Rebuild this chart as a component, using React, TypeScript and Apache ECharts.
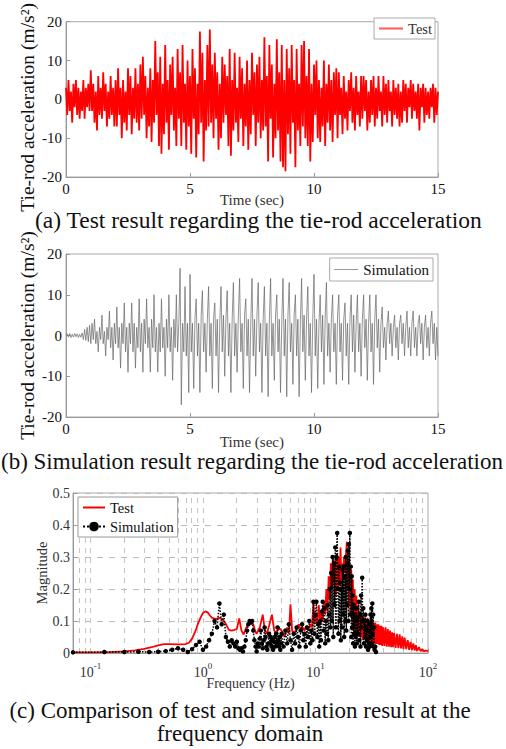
import React, { useEffect, useRef } from 'react';
import * as echarts from 'echarts';

// ---------- DATA ----------
const TIME_STEP = 0.05; // s, sampling step of the time histories (0..15 s)

// (a) measured tie-rod acceleration (m/s^2), one row per second
const testAccel = [
  3,-4,5,-3,2,-6,4,-2,5,-4,3,-5,2,-3,5,-5,3,-2,4,-3,
  7.5,-3,4,-6,2,-8,6,-4,3,-5,7,-3,4,-7,2,-5,6,-4,3,-7,
  5,-7,8,-4,3,-10,5,-6,2,-8,8,-4,6,-9,3,-5,8,-6,4,-8,
  9,-5,11,-4,6,-10,3,-7,8,-11,5,-6,15,-4,7,-12,11,-14,4,-9,
  14,-6,5,-13,9,-4,11,-8,3,-12,13,-5,7,-12,14,-6,4,-13,10,-7,
  6,-14,13,-5,8,-15,4,-9,17.5,-6,12,-16,5,-8,14,-7,18,-6,9,-10,
  12,-5,7,-13,4,-10,11,-6,9,-4,6,-12,13,-14.5,5,-8,12,-6,3,-11,
  11,-5,8,-12,4,-7,10,-13,5,-9,12,-4,7,-12,9,-6,11,-10,5,-8,
  16,-7,6,-16,14,-5,9,-15,4,-10,15.5,-8,7,-16,14,-17.5,5,-18.5,13,-9,
  8,-14,14,-6,5,-17.5,13,-8,4,-12,14,-7,15,-10,6,-12,13,-16,4,-11,
  9,-4,10,-10,5,-11,3,-7,10,-12,4,-6,9,-8,5,-11,7,-4,8,-10,
  7,-4,3,-9,6,-5,2,-8,5,-3,7,-6,3,-8,6,-4,2,-7,6,-5,
  6,-3,5,-8,2,-6,5,-4,6,-7,3,-5,6,-3,2,-7,6,-4,4,-6,
  5,-3,2,-7,5,-4,3,-5,4,-7,2,-6,5,-3,4,-6,3,-2,5,-5,
  4,-3,2,-5,4,-8,3,-2,4,-6,3,-4,2,-5,3,-2,4,-6,3,-4,
  2,
];

// (b) simulated tie-rod acceleration (m/s^2), one row per second
const simAccel = [
  0,0.4,-0.4,0.5,-0.5,0.3,-0.4,0.5,-0.3,0.4,-0.5,0.3,-0.4,0.6,-1,1.5,-1.2,2,-1.5,2.5,
  -2,3,-1,4,-2,1,-4,2,-1,5,-2,1,-5,2,-1,6,-3,2,-6,3,
  -2,7,-3,2,-8,3,-2,8,-4,2,-9,3,-2,8,-4,3,-8,2,-3,9,
  -4,3,-9,4,-2,9,-3,2,-9,4,-3,10,-4,2,-9,3,-4,9,-3,2,
  -10,4,-3,10,-4,2,-11,4,-3,10,-4,3,16.5,-17,3,-4,12,-5,3,-14,
  15,-4,3,-13,4,9,-5,3,-14,5,11,-4,3,-9,4,12,-5,3,-13,4,
  8,-5,4,-14,3,12,-4,5,-10,4,11,-5,3,-14,4,13,-5,3,-9,5,
  14,-4,3,-13,5,9,-5,4,-14,3,14,-5,4,-10,5,13,-4,3,-14,4,
  12,-5,3,-15,4,14,-5,3,-11,5,10,-4,4,-14,3,14,-5,4,-15,5,
  13,-4,3,-12,5,10,-5,4,-15,3,14,-4,5,-11,4,12,-5,3,-14,4,
  15,-5,4,-13,3,10,-4,5,-12,4,13,-5,3,-9,4,10,-4,3,-12,5,
  10,-4,3,-11,4,8,-5,3,-12,4,10,-4,5,-9,3,10,-4,3,-10,4,
  10,-3,4,-11,3,10,-4,3,-12,4,10,-3,4,-9,3,7,-3,2,-6,3,
  6,-2,3,-5,2,5,-3,2,-6,3,5,-2,3,-5,2,6,-3,2,-5,3,
  6,-3,2,-5,3,5,-2,3,-6,2,5,-3,2,-5,3,6,-2,3,-6,2,
  -5,
];

// (c) spectra: [frequency Hz, magnitude]
const testSpectrum = [
  [0.07,0.002],[0.1,0.002],[0.15,0.003],[0.2,0.005],[0.25,0.008],[0.3,0.013],[0.35,0.018],[0.4,0.024],
  [0.45,0.028],[0.5,0.028],[0.6,0.027],[0.7,0.028],[0.75,0.032],[0.8,0.045],[0.85,0.065],[0.9,0.09],
  [0.95,0.11],[1.0,0.125],[1.05,0.13],[1.1,0.127],[1.15,0.118],[1.2,0.11],[1.3,0.107],[1.4,0.11],
  [1.5,0.105],[1.6,0.09],[1.7,0.072],[1.8,0.07],[1.9,0.072],[2.0,0.075],[2.1,0.108],[2.2,0.07],
  [2.3,0.058],[2.4,0.075],[2.5,0.09],[2.6,0.1],[2.7,0.098],[2.8,0.09],[2.9,0.07],[3.0,0.06],
  [3.2,0.08],[3.4,0.12],[3.55,0.07],[3.7,0.06],[3.9,0.09],[4.1,0.12],[4.3,0.07],[4.5,0.06],
  [4.7,0.08],[5.0,0.07],[5.3,0.05],[5.6,0.08],[5.8,0.06],[6.0,0.152],[6.2,0.07],[6.5,0.06],
  [6.8,0.08],[7.1,0.09],[7.4,0.07],[7.7,0.08],[8.0,0.07],[8.3,0.085],[8.6,0.07],[9.0,0.09],
  [9.3,0.08],[9.6,0.16],[9.8,0.09],[10.1,0.12],[10.4,0.09],[10.7,0.15],[11.0,0.1],[11.3,0.13],
  [11.6,0.1],[11.9,0.16],[12.2,0.12],[12.5,0.2],[12.8,0.13],[13.1,0.24],[13.4,0.17],[13.7,0.28],
  [14.0,0.2],[14.3,0.3],[14.6,0.22],[14.9,0.29],[15.2,0.18],[15.5,0.31],[15.8,0.2],[16.1,0.3],
  [16.4,0.22],[16.7,0.33],[17.0,0.2],[17.3,0.28],[17.6,0.23],[17.9,0.3],[18.2,0.25],[18.6,0.3],
  [19.0,0.348],[19.3,0.2],[19.6,0.29],[19.9,0.15],[20.2,0.27],[20.5,0.12],[20.8,0.26],[21.1,0.1],
  [21.5,0.23],[21.9,0.08],[22.3,0.2],[22.7,0.07],[23.1,0.18],[23.5,0.06],[24.0,0.15],[24.5,0.05],
  [25.0,0.13],[25.4,0.05],[25.8,0.12],[26.2,0.04],[26.6,0.115],[27.0,0.045],[27.4,0.11],[27.8,0.04],
  [28.2,0.105],[28.6,0.035],[29.0,0.11],[29.5,0.04],[30,0.1],[30.5,0.035],[31,0.105],[31.5,0.03],
  [32,0.1],[32.5,0.03],[33,0.095],[33.5,0.03],[34,0.095],[34.5,0.028],[35,0.09],[35.6,0.028],
  [36.2,0.09],[36.8,0.025],[37.4,0.085],[38,0.025],[38.6,0.085],[39.2,0.022],[40,0.08],[41,0.022],
  [42,0.08],[43,0.02],[44,0.075],[45,0.02],[46,0.07],[47,0.018],[48,0.065],[49,0.018],
  [50,0.062],[51.5,0.016],[53,0.06],[54.5,0.015],[56,0.058],[57.5,0.014],[59,0.052],[60.5,0.012],
  [62,0.048],[64,0.012],[66,0.04],[68,0.01],[70,0.035],[72,0.009],[74,0.03],[76,0.008],
  [78,0.024],[80,0.007],[83,0.018],[86,0.006],[89,0.012],[92,0.005],[96,0.008],[100,0.005],
];

const simSpectrum = [
  [0.07,0.002],[0.133,0.003],[0.2,0.003],[0.267,0.004],[0.333,0.003],[0.4,0.004],[0.467,0.006],[0.533,0.01],
  [0.6,0.015],[0.667,0.01],[0.733,0.003],[0.8,0.012],[0.867,0.025],[0.933,0.035],[1.0,0.01],[1.067,0.02],
  [1.133,0.04],[1.2,0.06],[1.267,0.1],[1.333,0.08],[1.4,0.155],[1.467,0.09],[1.533,0.12],[1.6,0.05],
  [1.667,0.035],[1.733,0.02],[1.8,0.04],[1.867,0.03],[1.933,0.02],[2.0,0.035],[2.067,0.015],[2.133,0.01],
  [2.2,0.015],[2.267,0.005],[2.333,0.02],[2.4,0.04],[2.467,0.07],[2.533,0.09],[2.6,0.1],[2.667,0.095],
  [2.733,0.1],[2.8,0.07],[2.867,0.04],[2.933,0.02],[3.0,0.005],[3.067,0.03],[3.133,0.02],[3.2,0.045],
  [3.267,0.07],[3.333,0.03],[3.4,0.015],[3.467,0.04],[3.533,0.08],[3.6,0.05],[3.667,0.02],[3.733,0.01],
  [3.8,0.03],[3.867,0.06],[3.933,0.03],[4.0,0.05],[4.067,0.02],[4.133,0.04],[4.2,0.01],[4.267,0.035],
  [4.333,0.05],[4.4,0.02],[4.467,0.06],[4.533,0.03],[4.6,0.08],[4.667,0.04],[4.733,0.02],[4.8,0.05],
  [4.867,0.01],[4.933,0.03],[5.0,0.06],[5.2,0.02],[5.4,0.07],[5.6,0.03],[5.8,0.09],[6.0,0.04],
  [6.2,0.01],[6.4,0.06],[6.6,0.03],[6.8,0.08],[7.0,0.05],[7.2,0.02],[7.4,0.07],[7.6,0.09],
  [7.8,0.04],[8.0,0.06],[8.2,0.02],[8.4,0.08],[8.6,0.05],[8.8,0.1],[9.0,0.03],[9.2,0.07],
  [9.4,0.04],[9.6,0.16],[9.8,0.06],[10.0,0.12],[10.2,0.16],[10.4,0.05],[10.6,0.09],[10.8,0.02],
  [11.0,0.1],[11.2,0.04],[11.4,0.13],[11.6,0.16],[11.8,0.07],[12.0,0.14],[12.2,0.03],[12.4,0.1],
  [12.6,0.06],[12.8,0.15],[13.0,0.04],[13.2,0.12],[13.4,0.2],[13.6,0.08],[13.8,0.25],[14.0,0.1],
  [14.2,0.3],[14.4,0.05],[14.6,0.28],[14.8,0.15],[15.0,0.33],[15.2,0.08],[15.4,0.3],[15.6,0.375],
  [15.8,0.2],[16.0,0.06],[16.2,0.27],[16.4,0.1],[16.6,0.22],[16.8,0.04],[17.0,0.2],[17.2,0.08],
  [17.4,0.26],[17.6,0.12],[17.8,0.27],[18.0,0.05],[18.2,0.24],[18.4,0.1],[18.6,0.3],[18.8,0.07],
  [19.0,0.28],[19.2,0.15],[19.4,0.32],[19.6,0.1],[19.8,0.34],[20.0,0.2],[20.2,0.375],[20.4,0.12],
  [20.6,0.27],[20.8,0.05],[21.0,0.24],[21.2,0.08],[21.4,0.18],[21.6,0.03],[21.8,0.15],[22.0,0.06],
  [22.2,0.12],[22.4,0.02],[22.6,0.1],[22.8,0.05],[23.0,0.14],[23.3,0.03],[23.6,0.11],[23.9,0.06],
  [24.2,0.16],[24.5,0.04],[24.8,0.12],[25.1,0.02],[25.4,0.18],[25.7,0.08],[26.0,0.235],[26.3,0.1],
  [26.6,0.14],[26.9,0.03],[27.2,0.1],[27.5,0.05],[27.8,0.12],[28.1,0.02],[28.4,0.08],[28.7,0.04],
  [29.0,0.1],[29.3,0.01],[29.6,0.07],[29.9,0.03],[30.2,0.09],[30.5,0.02],[30.8,0.12],[31.1,0.05],
  [31.4,0.14],[31.7,0.03],[32.0,0.155],[32.3,0.06],[32.6,0.12],[32.9,0.02],[33.2,0.08],[33.5,0.01],
  [34.0,0.02],[34.5,0.003],
];

const FREQ_MIN_HZ = 0.07;
const FREQ_MAX_HZ = 100;
const freqDecadeExponents = [-1, 0, 1, 2];
const freqGridHz = [
  0.08, 0.09, 0.1, 0.2, 0.3, 0.4, 0.5, 0.6, 0.7, 0.8, 0.9,
  1, 2, 3, 4, 5, 6, 7, 8, 9, 10, 20, 30, 40, 50, 60, 70, 80, 90,
];

const captionA = '(a) Test result regarding the tie-rod acceleration';
const captionB = '(b) Simulation result regarding the tie-rod acceleration';
const captionC = '(c) Comparison of test and simulation result at the\nfrequency domain';

const FONT = '"Liberation Serif", "Times New Roman", serif';

export default function App() {
  const ref = useRef<HTMLDivElement>(null);

  useEffect(() => {
    const chart = echarts.init(ref.current!, null, { renderer: 'svg' });
    const toTime = (arr: number[]) => arr.map((v, i) => [Number((i * TIME_STEP).toFixed(2)), v]);
    const toLog = (arr: number[][]) => arr.map(([f, m]) => [Math.log10(f), m]);

    const axisLine = { show: true, onZero: false, lineStyle: { color: '#999', width: 1 } };
    const axisTick = { show: true, inside: true, length: 4, lineStyle: { color: '#999' } };
    const labelStyle = { color: '#111', fontFamily: FONT, fontSize: 15 };

    const legendNames: Record<string, string> = {
      testA: 'Test', simB: 'Simulation', testC: 'Test', simC: 'Simulation',
    };
    const noSymbol = { opacity: 0 };

    const option: any = {
      animation: false,
      backgroundColor: '#fff',
      grid: [
        { left: 66, top: 14, width: 372, height: 163, show: true, borderColor: '#aaa', borderWidth: 1 },
        { left: 66, top: 254, width: 372, height: 163, show: true, borderColor: '#aaa', borderWidth: 1 },
        { left: 73, top: 493, width: 355, height: 160, show: true, borderColor: '#aaa', borderWidth: 1 },
      ],
      xAxis: [
        {
          type: 'value', gridIndex: 0, min: 0, max: 15, interval: 5,
          name: 'Time (sec)', nameLocation: 'middle', nameGap: 15, nameMoveOverlap: false,
          nameTextStyle: { fontFamily: FONT, fontSize: 15, color: '#333' },
          axisLine, axisTick, axisLabel: { ...labelStyle, margin: 4 }, splitLine: { show: false },
        },
        {
          type: 'value', gridIndex: 1, min: 0, max: 15, interval: 5,
          name: 'Time (sec)', nameLocation: 'middle', nameGap: 17, nameMoveOverlap: false,
          nameTextStyle: { fontFamily: FONT, fontSize: 15, color: '#333' },
          axisLine, axisTick, axisLabel: { ...labelStyle, margin: 4 }, splitLine: { show: false },
        },
        {
          type: 'value', gridIndex: 2, min: Math.log10(FREQ_MIN_HZ), max: Math.log10(FREQ_MAX_HZ),
          name: 'Frequency (Hz)', nameLocation: 'middle', nameGap: 23, nameMoveOverlap: false,
          nameTextStyle: { fontFamily: FONT, fontSize: 14, color: '#333' },
          axisLine,
          axisTick: { ...axisTick, customValues: freqDecadeExponents },
          axisLabel: {
            customValues: freqDecadeExponents,
            margin: 8,
            formatter: (v: number) => `{b|10}{s|${Math.round(v)}}`,
            rich: {
              b: { fontFamily: FONT, fontSize: 14, color: '#333', verticalAlign: 'bottom', lineHeight: 18 },
              s: { fontFamily: FONT, fontSize: 9, color: '#333', verticalAlign: 'top', lineHeight: 10 },
            },
          },
          splitLine: { show: false },
        },
      ],
      yAxis: [
        {
          type: 'value', gridIndex: 0, min: -20, max: 20, interval: 10,
          name: 'Tie-rod acceleration (m/s²)', nameLocation: 'middle', nameGap: 29, nameMoveOverlap: false,
          nameTextStyle: { fontFamily: FONT, fontSize: 19.5, color: '#111', padding: [0, 16, 0, 0] },
          axisLine, axisTick, axisLabel: { ...labelStyle, margin: 4 }, splitLine: { show: false },
        },
        {
          type: 'value', gridIndex: 1, min: -20, max: 20, interval: 10,
          name: 'Tie-rod acceleration (m/s²)', nameLocation: 'middle', nameGap: 29, nameMoveOverlap: false,
          nameTextStyle: { fontFamily: FONT, fontSize: 19.5, color: '#111' },
          axisLine, axisTick, axisLabel: { ...labelStyle, margin: 4 }, splitLine: { show: false },
        },
        {
          type: 'value', gridIndex: 2, min: 0, max: 0.5, interval: 0.1,
          name: 'Magnitude', nameLocation: 'middle', nameGap: 24, nameMoveOverlap: false,
          nameTextStyle: { fontFamily: FONT, fontSize: 14.5, color: '#333' },
          axisLine, axisTick,
          axisLabel: {
            ...labelStyle, fontSize: 14, color: '#333', margin: 3,
            formatter: (v: number) => (v === 0 ? '0' : v.toFixed(1)),
          },
          splitLine: { show: true, lineStyle: { color: '#bbb', type: [6, 6], width: 1 } },
        },
      ],
      legend: [
        {
          data: [{ name: 'testA', itemStyle: noSymbol }], right: 71, top: 18, orient: 'vertical',
          formatter: (n: string) => legendNames[n],
          backgroundColor: '#fff', borderColor: '#aaa', borderWidth: 1, padding: [3, 3, 3, 4],
          itemWidth: 24, itemHeight: 10, lineStyle: { width: 2, color: '#ff5a5a' },
          textStyle: { fontFamily: FONT, fontSize: 14.5, color: '#333' },
        },
        {
          data: [{ name: 'simB', itemStyle: noSymbol }], right: 73, top: 258, orient: 'vertical',
          formatter: (n: string) => legendNames[n],
          backgroundColor: '#fff', borderColor: '#aaa', borderWidth: 1, padding: [4, 4, 4, 4],
          itemWidth: 24, itemHeight: 10, lineStyle: { width: 1, color: '#999' },
          textStyle: { fontFamily: FONT, fontSize: 15, color: '#111' },
        },
        {
          data: [{ name: 'testC', itemStyle: noSymbol }, 'simC'], left: 78, top: 497, orient: 'vertical',
          formatter: (n: string) => legendNames[n],
          backgroundColor: '#fff', borderColor: '#999', borderWidth: 1, padding: [3, 4, 3, 4],
          itemGap: 4, itemWidth: 22, itemHeight: 12,
          textStyle: { fontFamily: FONT, fontSize: 14.5, color: '#111' },
        },
      ],
      series: [
        {
          name: 'testA', type: 'line', xAxisIndex: 0, yAxisIndex: 0,
          data: toTime(testAccel), symbol: 'none', showSymbol: false,
          lineStyle: { color: '#ff0000', width: 1.8 }, itemStyle: { color: '#ff0000' },
        },
        {
          name: 'simB', type: 'line', xAxisIndex: 1, yAxisIndex: 1,
          data: toTime(simAccel), symbol: 'none', showSymbol: false,
          lineStyle: { color: '#666', width: 0.7 }, itemStyle: { color: '#888' },
        },
        {
          name: 'testC', type: 'line', xAxisIndex: 2, yAxisIndex: 2,
          data: toLog(testSpectrum), symbol: 'none', showSymbol: false,
          lineStyle: { color: '#ff0000', width: 1.8 }, itemStyle: { color: '#ff0000' },
          markLine: {
            silent: true, z: 1, symbol: ['none', 'none'], label: { show: false },
            lineStyle: { color: '#c4c4c4', type: [5, 5], width: 1 },
            data: freqGridHz.map((f) => ({ xAxis: Math.log10(f) })),
          },
        },
        {
          name: 'simC', type: 'line', xAxisIndex: 2, yAxisIndex: 2,
          data: toLog(simSpectrum), symbol: 'circle', symbolSize: 4.5, showSymbol: true,
          lineStyle: { color: '#000', width: 1.5, type: 'dotted' }, itemStyle: { color: '#000' },
        },
      ],
      graphic: [
        {
          type: 'text', x: 35, y: 220,
          style: { text: captionA, fontFamily: FONT, fontSize: 23.5, fill: '#111', align: 'left', verticalAlign: 'middle' },
        },
        {
          type: 'text', x: 1, y: 461,
          style: { text: captionB, fontFamily: FONT, fontSize: 23, fill: '#111', align: 'left', verticalAlign: 'middle' },
        },
        {
          type: 'text', x: 240, y: 722,
          style: { text: captionC, fontFamily: FONT, fontSize: 23, lineHeight: 23, fill: '#111', align: 'center', verticalAlign: 'middle' },
        },
      ],
    };

    chart.setOption(option);
    return () => chart.dispose();
  }, []);

  return (
    <div
      ref={ref}
      style={{ position: 'fixed', left: 0, top: 0, width: 506, height: 749, background: '#fff' }}
    />
  );
}
